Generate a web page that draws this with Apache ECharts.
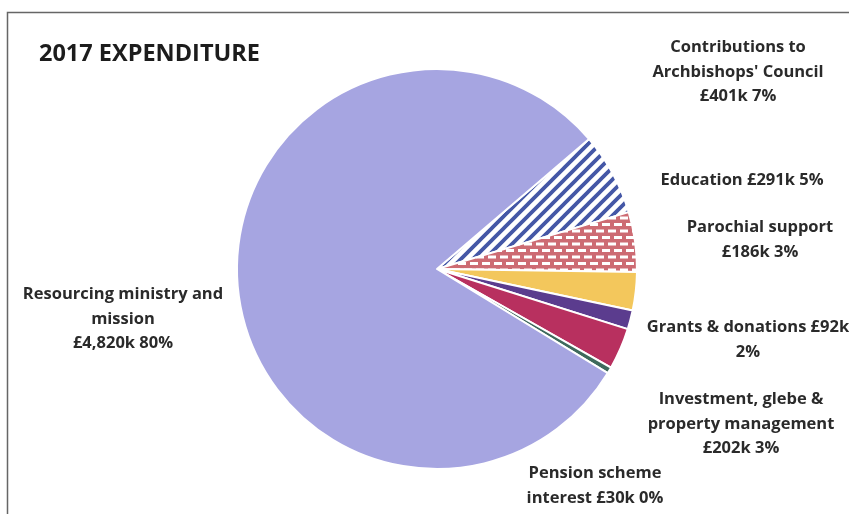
<!DOCTYPE html>
<html>
<head>
<meta charset="utf-8">
<script src="https://cdn.jsdelivr.net/npm/echarts@6/dist/echarts.min.js"></script>
<style>html,body{margin:0;padding:0;background:#fff}#c{width:849px;height:514px}</style>
</head>
<body>
<div id="c"></div>
<script>
// ---- data ----
const categories = [
  "Contributions to\nArchbishops' Council",
  "Education",
  "Parochial support",
  "Grants & donations",
  "Investment, glebe &\nproperty management",
  "Pension scheme\ninterest",
  "Resourcing ministry and\nmission"
];
const values = [401, 291, 186, 92, 202, 30, 4820]; // £k
const titleText = "2017 EXPENDITURE";
// separators between name/value and value/percent in each label
const nameSep = ["\n", " ", "\n", " ", "\n", " ", "\n"];
const pctSep = [" ", " ", " ", "\n", " ", " ", " "];

// ---- styles / layout ----
const labelPos = [[738, 72], [742, 180], [760, 240], [748, 340], [741, 424], [595, 486], [123, 319]];
function stripePattern() {
  const c = document.createElement('canvas'); c.width = 12; c.height = 12;
  const g = c.getContext('2d');
  g.fillStyle = '#ffffff'; g.fillRect(0, 0, 12, 12);
  g.strokeStyle = '#4457a6'; g.lineWidth = 3.8;
  g.beginPath();
  g.moveTo(-2, 14); g.lineTo(14, -2);
  g.moveTo(-8, 8); g.lineTo(8, -8);
  g.moveTo(4, 20); g.lineTo(20, 4);
  g.stroke();
  return c;
}
function brickPattern() {
  const c = document.createElement('canvas'); c.width = 12; c.height = 13;
  const g = c.getContext('2d');
  g.fillStyle = '#cd6b73'; g.fillRect(0, 0, 12, 13);
  g.fillStyle = '#ffffff';
  g.fillRect(2, 2, 8, 3);
  g.fillRect(-4, 8.5, 8, 3); g.fillRect(8, 8.5, 8, 3);
  return c;
}
const colors = [
  { image: stripePattern(), repeat: 'repeat' },
  { image: brickPattern(), repeat: 'repeat' },
  '#f3c75c',
  '#5b3c8e',
  '#b8305f',
  '#3e6a5c',
  '#a6a5e1'
];

const chart = echarts.init(document.getElementById('c'), null, { renderer: 'canvas' });
chart.setOption({
  animation: false,
  backgroundColor: '#ffffff',
  title: {
    text: titleText, left: 34, top: 37,
    textStyle: { fontFamily: 'Open Sans', fontWeight: 'bold', fontSize: 23.5, color: '#1c1c1c' }
  },
  graphic: [{
    type: 'rect', silent: true,
    shape: { x: 7.5, y: 12.5, width: 1000, height: 1000 },
    style: { fill: 'none', stroke: '#666', lineWidth: 1.5 }
  }],
  series: [{
    type: 'pie',
    silent: true,
    center: [437, 269],
    radius: 200,
    startAngle: 40.5,
    clockwise: true,
    percentPrecision: 0,
    avoidLabelOverlap: false,
    itemStyle: { borderColor: '#ffffff', borderWidth: 2 },
    label: {
      show: true,
      fontFamily: 'Open Sans', fontWeight: 'bold', fontSize: 16.5, lineHeight: 24.5,
      color: '#2a2a2a', align: 'center',
      formatter: p => p.name + nameSep[p.dataIndex] + '£' + p.value.toLocaleString('en-GB') + 'k' + pctSep[p.dataIndex] + p.percent + '%'
    },
    labelLine: { show: false },
    labelLayout: p => ({ x: labelPos[p.dataIndex][0], y: labelPos[p.dataIndex][1], align: 'center', verticalAlign: 'middle' }),
    data: categories.map((n, i) => ({ name: n, value: values[i], itemStyle: { color: colors[i] } }))
  }]
});
</script>
</body>
</html>
